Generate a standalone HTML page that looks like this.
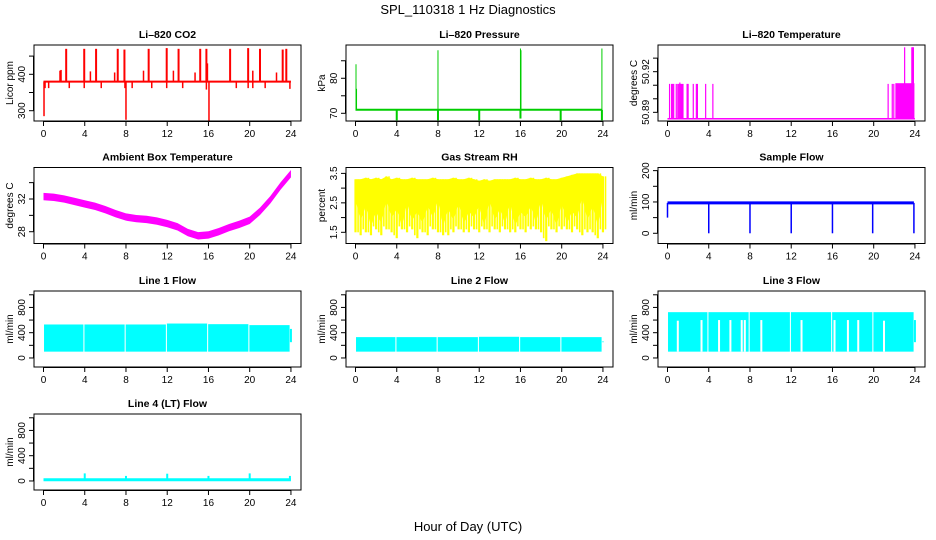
<!DOCTYPE html>
<html><head><meta charset="utf-8"><style>
html,body{margin:0;padding:0;background:#fff;}
svg{display:block;font-family:"Liberation Sans",sans-serif;}
</style></head><body>
<svg id="c" width="936" height="540" viewBox="0 0 936 540" xmlns="http://www.w3.org/2000/svg">
<text x="468" y="14" text-anchor="middle" font-size="13">SPL_110318  1 Hz Diagnostics</text>
<text x="468" y="531" text-anchor="middle" font-size="13">Hour of Day (UTC)</text>
</svg>
<script>
// ---- data ----
const xTicks = [0,4,8,12,16,20,24];
// CO2
const co2Base = 380;
const co2SpikeHours = [2.2,3.95,5.1,7.2,7.85,10.2,11.95,13.1,15.2,15.8,18.1,19.85,21.0,23.2,23.55];
const co2SpikeVals = [470,470,470,470,468,470,472,470,470,470,470,472,470,468,470];
const co2BumpHours = [1.6,1.7,4.55,6.9,9.7,12.6,14.7,15.9,20.3,22.6];
const co2BumpVals = [410,412,408,405,410,410,405,430,410,405];
const co2DipHours = [0.05,0.15,0.5,2.5,3.95,5.6,7.9,8.0,8.6,10.5,11.95,13.5,15.8,16.05,18.7,19.85,20.3,21.5,23.9];
const co2DipVals = [285,362,362,362,362,362,362,275,362,362,362,362,358,270,362,362,362,362,360];
// Pressure
const presBase = 71;
const presSpikeHours = [0.05,0.1,8.0,16.0,16.05,23.9];
const presSpikeVals = [84,77,88,88.5,88,88.5];
const presDipHours = [4.0,8.0,12.0,16.0,19.9,23.9];
const presDipVals = [68,68,68,68.5,68,68];
// Li-820 Temperature
const ltBase = 50.8853;
const ltStepHours = [0.2,0.4,0.5,0.6,0.85,1.0,1.1,1.2,1.3,1.4,1.5,1.9,2.0,2.5,2.8,2.9,3.7,4.4,21.4,21.8,21.95];
const ltStepVals = [50.911,50.911,50.911,50.911,50.911,50.911,50.911,50.912,50.911,50.911,50.911,50.911,50.911,50.911,50.911,50.911,50.911,50.911,50.911,50.911,50.911];
const ltBlockHours = [22.1,23.95];
const ltBlockVal = 50.9115;
const ltTallHours = [23.0,23.7,23.75,23.8,23.85];
const ltTallVals = [50.938,50.938,50.938,50.938,50.938];
// Ambient box temperature
const ambHours = [0,1,2,3,4,5,6,7,8,9,10,11,12,13,14,15,16,17,18,19,20,21,22,23,24];
const ambVals = [32.3,32.2,32.0,31.7,31.4,31.1,30.7,30.2,29.8,29.6,29.5,29.3,29.0,28.6,27.9,27.5,27.6,28.0,28.5,28.9,29.4,30.5,31.9,33.6,35.1];
// Gas stream RH
const rhHours = [0,0.5,1,1.5,2,2.5,3,3.5,4,4.5,5,5.5,6,6.5,7,7.5,8,8.5,9,9.5,10,10.5,11,11.5,12,12.5,13,13.5,14,14.5,15,15.5,16,16.5,17,17.5,18,18.5,19,19.5,20,20.5,21,21.5,22,22.5,23,23.5,24];
const rhHigh = [3.3,3.3,3.35,3.3,3.35,3.3,3.4,3.3,3.35,3.3,3.3,3.35,3.3,3.3,3.3,3.35,3.3,3.3,3.3,3.35,3.3,3.3,3.35,3.3,3.25,3.3,3.25,3.3,3.3,3.3,3.3,3.35,3.3,3.3,3.35,3.3,3.3,3.35,3.3,3.3,3.35,3.4,3.45,3.5,3.5,3.5,3.5,3.5,3.4];
const rhLow = [1.5,1.4,1.5,1.4,1.6,1.4,1.6,1.5,1.3,1.6,1.5,1.6,1.3,1.5,1.4,1.6,1.5,1.4,1.4,1.5,1.6,1.5,1.5,1.6,1.5,1.6,1.5,1.6,1.5,1.6,1.5,1.5,1.6,1.5,1.6,1.6,1.5,1.2,1.6,1.5,1.6,1.6,1.5,1.6,1.4,1.5,1.5,1.3,1.5];
const rhMid = [2.6,1.9,2.4,1.7,2.2,1.8,2.6,2.0,2.3,1.7,2.5,1.9,2.2,1.8,2.4,2.0,2.6,1.7,2.3,1.9,2.5,1.8,2.2,2.0,2.4,1.7,2.6,1.9,2.3,1.8,2.5,1.7,2.2,2.0,2.4,1.8,2.6,1.9,2.3,1.7,2.5,1.8,2.2,2.0,2.7,1.9,2.4,1.7,2.7];
// Sample flow
const sfBase = 97;
const sfDipHours = [0.0,4.0,8.0,12.0,16.0,19.9,23.9];
const sfDipVals = [50,0,0,0,0,0,0];
// Line flows
const segStarts = [0.05,3.97,7.97,11.97,15.97,19.97];
const segEnds = [3.87,7.87,11.87,15.87,19.87,23.87];
const l1High = [530,530,530,545,535,520];
const l2High = [330,330,330,335,330,330];
const l3High = [725,725,725,725,725,725];
const flowLow = 100;
const l3GapHours = [1.0,3.3,5.0,6.1,7.2,7.5,9.1,13.0,16.2,17.5,18.5,21.0];
const l3GapTops = [590,600,600,600,600,600,600,600,600,600,600,590];
const l4Base = 20;
const l4SpikeHours = [4.0,8.0,12.0,16.0,20.0,23.9];
const l4SpikeVals = [120,80,115,80,120,80];

// ---- layout ----
const NS='http://www.w3.org/2000/svg';
const svg=document.getElementById('c');
const colLeft=[34,346,658], rowTop=[45,167.5,291,414], BW=267, BH=76;
function mk(tag,attrs,parent){const e=document.createElementNS(NS,tag);for(const k in attrs)e.setAttribute(k,attrs[k]);(parent||svg).appendChild(e);return e;}

function panel(name,col,row,title,ylab,ymin,ymax,yt,ylabels){
  const L=colLeft[col],T=rowTop[row];
  const g=mk('g',{});
  
  
  const X=h=>L+9.5+h*10.31;
  const Y=v=>T+BH-(v-ymin)/(ymax-ymin)*BH;
  const t=mk('text',{x:L+BW/2,y:T-7,'text-anchor':'middle','font-size':10.5,'font-weight':'bold'},g);
  t.textContent=title;
  
  
  const plot=mk('g',{},g);
  
  
  const box=mk('rect',{x:L,y:T,width:BW,height:BH,fill:'none',stroke:'#000','stroke-width':1},g);
  
  
  const xa=mk('g',{},g);
  
  
  mk('line',{x1:X(0),x2:X(24),y1:T+BH+0.5,y2:T+BH+0.5,stroke:'#000'},xa);
  xTicks.forEach(h=>{mk('line',{x1:X(h),x2:X(h),y1:T+BH,y2:T+BH+5,stroke:'#000'},xa);
    const tx=mk('text',{x:X(h),y:T+BH+16,'text-anchor':'middle','font-size':10},xa);tx.textContent=h;});
  const ya=mk('g',{},g);
  
  
  mk('line',{x1:L-0.5,x2:L-0.5,y1:Y(yt[0]),y2:Y(yt[yt.length-1]),stroke:'#000'},ya);
  yt.forEach(v=>mk('line',{x1:L-5,x2:L,y1:Y(v),y2:Y(v),stroke:'#000'},ya));
  ylabels.forEach(v=>{const ty=mk('text',{x:0,y:0,'text-anchor':'middle','font-size':10,transform:`translate(${L-9},${Y(v)}) rotate(-90)`},ya);ty.textContent=v;});
  const yl=mk('text',{x:0,y:0,'text-anchor':'middle','font-size':10,transform:`translate(${L-21},${T+BH/2}) rotate(-90)`},g);
  yl.textContent=ylab;
  
  
  return {X,Y,plot};
}
function vline(p,h,v1,v2,c,w){mk('line',{x1:p.X(h),x2:p.X(h),y1:p.Y(v1),y2:p.Y(v2),stroke:c,'stroke-width':w||1},p.plot);}
function hline(p,h1,h2,v,c,w){mk('line',{x1:p.X(h1),x2:p.X(h2),y1:p.Y(v),y2:p.Y(v),stroke:c,'stroke-width':w||1},p.plot);}
function rect(p,h1,h2,v1,v2,c){mk('rect',{x:p.X(h1),y:p.Y(v2),width:p.X(h2)-p.X(h1),height:p.Y(v1)-p.Y(v2),fill:c},p.plot);}

// CO2
let p=panel('co2',0,0,'Li–820 CO2','Licor ppm',271.7,480.5,[300,350,400,450],[300,400]);
hline(p,0,24,co2Base,'#f00',2);
co2SpikeHours.forEach((h,i)=>vline(p,h,co2Base,co2SpikeVals[i],'#f00',2));
co2BumpHours.forEach((h,i)=>vline(p,h,co2Base,co2BumpVals[i],'#f00',1.5));
co2DipHours.forEach((h,i)=>vline(p,h,co2Base,co2DipVals[i],'#f00',1.5));
// Pressure
p=panel('pressure',1,0,'Li–820 Pressure','kPa',67.8,89.5,[70,75,80,85],[70,80]);
hline(p,0,23.9,presBase,'#00cd00',2);
presSpikeHours.forEach((h,i)=>vline(p,h,presBase,presSpikeVals[i],'#00cd00',1));
presDipHours.forEach((h,i)=>vline(p,h,presBase,presDipVals[i],'#00cd00',2));
// Li temp
p=panel('li-temperature',2,0,'Li–820 Temperature','degrees C',50.8836,50.9397,[50.89,50.9,50.91,50.92,50.93],[50.89,50.92]);
hline(p,0,24,ltBase,'#f0f',1.5);
ltStepHours.forEach((h,i)=>vline(p,h,ltBase,ltStepVals[i],'#f0f',1.2));
rect(p,ltBlockHours[0],ltBlockHours[1],ltBase,ltBlockVal,'#f0f');
ltTallHours.forEach((h,i)=>vline(p,h,ltBase,ltTallVals[i],'#f0f',1.2));
// Ambient
p=panel('ambient-temperature',0,1,'Ambient Box Temperature','degrees C',26.56,35.85,[28,30,32,34],[28,32]);
{let up=ambHours.map((h,i)=>p.X(h)+','+p.Y(ambVals[i]+0.45)).join(' ');
 let dn=ambHours.slice().reverse().map((h,i)=>p.X(h)+','+p.Y(ambVals[ambVals.length-1-i]-0.45)).join(' ');
 mk('polygon',{points:up+' '+dn,fill:'#f0f'},p.plot);}
// RH
p=panel('gas-stream-rh',1,1,'Gas Stream RH','percent',1.12,3.70,[1.5,2,2.5,3,3.5],[1.5,2.5,3.5]);
{let up=rhHours.map((h,i)=>p.X(h)+','+p.Y(rhHigh[i])).join(' ');
 let dn=rhHours.slice().reverse().map((h,i)=>p.X(h)+','+p.Y(rhMid[rhMid.length-1-i])).join(' ');
 mk('polygon',{points:up+' '+dn,fill:'#ff0'},p.plot);}
rhHours.forEach((h,i)=>{vline(p,h,rhLow[i],rhHigh[i],'#ff0',2.2);vline(p,h+0.25,rhLow[(i+1)%rhLow.length]+0.1,rhHigh[i],'#ff0',1.6);});
// Sample flow
p=panel('sample-flow',2,1,'Sample Flow','ml/min',-32.6,210,[0,50,100,150,200],[0,100,200]);
hline(p,0,23.9,sfBase,'#00f',3);
sfDipHours.forEach((h,i)=>vline(p,h,sfBase,sfDipVals[i],'#00f',1.5));
// Line flows
function flow(name,col,row,title,highs,lastVal){
  const q=panel(name,col,row,title,'ml/min',-143,1060,[0,200,400,600,800,1000],[0,400,800]);
  segStarts.forEach((s,i)=>rect(q,s,segEnds[i],flowLow,highs[i],'#0ff'));
  vline(q,24,flowLow+150,lastVal,'#0ff',2);
  return q;
}
flow('line-1-flow',0,2,'Line 1 Flow',l1High,460);
flow('line-2-flow',1,2,'Line 2 Flow',l2High,260);
p=flow('line-3-flow',2,2,'Line 3 Flow',l3High,600);
l3GapHours.forEach((h,i)=>vline(p,h,flowLow,l3GapTops[i],'#fff',2));
p=panel('line-4-flow',0,3,'Line 4 (LT) Flow','ml/min',-143,1060,[0,200,400,600,800,1000],[0,400,800]);
hline(p,0,24,l4Base,'#0ff',3);
l4SpikeHours.forEach((h,i)=>vline(p,h,l4Base,l4SpikeVals[i],'#0ff',2));
</script>
</body></html>
